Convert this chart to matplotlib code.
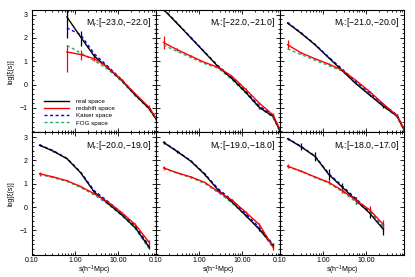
#!/usr/bin/env python3
"""
Two-point correlation function in real / redshift space, six magnitude bins
"""

import numpy as np
import matplotlib
matplotlib.use('Agg')
import matplotlib.pyplot as plt
from matplotlib.lines import Line2D
from matplotlib.ticker import AutoMinorLocator, FixedLocator, FuncFormatter

plt.rcParams['font.family'] = ['Liberation Sans', 'DejaVu Sans']
plt.rcParams['mathtext.fontset'] = 'custom'
plt.rcParams['mathtext.rm'] = 'Liberation Sans'
plt.rcParams['mathtext.it'] = 'Liberation Sans'

# separation bins (h^-1 Mpc)
s_top = [0.15, 0.31, 0.65, 1.35, 2.8, 5.8, 12.1, 25.2, 52.4, 109.0]
s_bot = [0.15, 0.31, 0.65, 1.35, 2.8, 5.8, 12.1, 25.2, 52.4]

mag_bins = ['[\u221223.0,\u221222.0]', '[\u221222.0,\u221221.0]', '[\u221221.0,\u221220.0]',
            '[\u221220.0,\u221219.0]', '[\u221219.0,\u221218.0]', '[\u221218.0,\u221217.0]']

# panel 1: Mr [-23,-22], starts at s=0.65
p1_s = s_top[2:]
p1_real = [2.90, 2.04, 1.22, 0.72, 0.18, -0.45, -1.02, -1.90]
p1_red = [1.40, 1.29, 1.11, 0.74, 0.20, -0.40, -0.97, -1.88]
p1_kaiser = [2.43, 2.14, 1.32, 0.78, 0.22, -0.42, -0.99, -1.86]
p1_fog = [1.68, 1.36, 1.02, 0.66, 0.14, -0.48, -1.05, -1.95]
p1_real_lo = [0.90, 0.40, 0.10, 0.05, 0.04, 0.05, 0.08, 0.10]
p1_real_hi = [0.60, 0.25, 0.08, 0.05, 0.04, 0.05, 0.08, 0.10]
p1_red_lo = [0.87, 0.22, 0.08, 0.04, 0.04, 0.06, 0.12, 0.10]
p1_red_hi = [0.31, 0.20, 0.08, 0.04, 0.04, 0.06, 0.10, 0.10]

# panel 2: Mr [-22,-21]
p2_real = [3.22, 2.62, 2.00, 1.38, 0.76, 0.26, -0.33, -0.98, -1.36, -2.60]
p2_red = [1.80, 1.50, 1.22, 0.95, 0.74, 0.36, -0.20, -0.80, -1.30, -2.55]
p2_kaiser = [3.25, 2.64, 2.02, 1.40, 0.80, 0.30, -0.28, -0.92, -1.32, -2.55]
p2_fog = [1.70, 1.42, 1.16, 0.90, 0.70, 0.22, -0.36, -1.00, -1.40, -2.65]
p2_real_err = [0.06, 0.04, 0.03, 0.03, 0.03, 0.03, 0.04, 0.05, 0.08, 0.10]
p2_red_err = [0.28, 0.05, 0.04, 0.03, 0.03, 0.03, 0.04, 0.05, 0.08, 0.10]

# panel 3: Mr [-21,-20]
p3_real = [2.64, 2.20, 1.71, 1.15, 0.60, 0.04, -0.45, -0.93, -1.35, -2.50]
p3_red = [1.71, 1.36, 1.11, 0.88, 0.62, 0.18, -0.30, -0.83, -1.33, -2.45]
p3_kaiser = [2.66, 2.22, 1.73, 1.18, 0.66, 0.12, -0.36, -0.86, -1.30, -2.45]
p3_fog = [1.53, 1.29, 1.04, 0.82, 0.58, 0.06, -0.43, -0.92, -1.38, -2.55]
p3_real_err = [0.05, 0.04, 0.03, 0.03, 0.03, 0.03, 0.05, 0.06, 0.08, 0.10]
p3_red_err = [0.20, 0.05, 0.03, 0.03, 0.03, 0.03, 0.04, 0.05, 0.08, 0.10]

# panel 4: Mr [-20,-19]
p4_real = [2.65, 2.40, 2.07, 1.47, 0.64, 0.16, -0.33, -0.89, -1.72]
p4_red = [1.43, 1.29, 1.13, 0.88, 0.57, 0.22, -0.24, -0.75, -1.51]
p4_kaiser = [2.67, 2.42, 2.09, 1.50, 0.70, 0.24, -0.25, -0.82, -1.65]
p4_fog = [1.40, 1.26, 1.10, 0.84, 0.52, 0.12, -0.36, -0.92, -1.78]
p4_real_err = [0.05, 0.02, 0.02, 0.02, 0.02, 0.02, 0.03, 0.05, 0.10]
p4_red_err = [0.08, 0.02, 0.02, 0.02, 0.02, 0.02, 0.03, 0.05, 0.10]

# panel 5: Mr [-19,-18]
p5_real = [2.77, 2.38, 1.96, 1.40, 0.72, 0.22, -0.36, -0.96, -1.65]
p5_red = [1.68, 1.47, 1.29, 1.06, 0.66, 0.30, -0.22, -0.75, -1.72]
p5_kaiser = [2.79, 2.40, 1.98, 1.43, 0.78, 0.30, -0.28, -0.88, -1.60]
p5_fog = [1.66, 1.45, 1.26, 1.02, 0.62, 0.18, -0.36, -0.92, -1.75]
p5_real_err = [0.08, 0.05, 0.04, 0.05, 0.05, 0.04, 0.05, 0.06, 0.10]
p5_red_err = [0.10, 0.03, 0.03, 0.03, 0.03, 0.03, 0.04, 0.06, 0.12]

# panel 6: Mr [-18,-17], up to s=25
p6_s = s_bot[:8]
p6_real = [2.93, 2.58, 2.17, 1.40, 0.85, 0.29, -0.26, -0.96]
p6_red = [1.75, 1.54, 1.29, 1.06, 0.71, 0.29, -0.12, -0.75]
p6_kaiser = [2.95, 2.60, 2.19, 1.44, 0.90, 0.36, -0.18, -0.88]
p6_fog = [1.73, 1.52, 1.27, 1.03, 0.66, 0.22, -0.22, -0.86]
p6_real_err = [0.05, 0.15, 0.20, 0.25, 0.20, 0.15, 0.20, 0.25]
p6_red_err = [0.08, 0.05, 0.06, 0.08, 0.10, 0.12, 0.15, 0.20]

panels = [
    (p1_s, p1_real, p1_red, p1_kaiser, p1_fog, [p1_real_lo, p1_real_hi], [p1_red_lo, p1_red_hi]),
    (s_top, p2_real, p2_red, p2_kaiser, p2_fog, p2_real_err, p2_red_err),
    (s_top, p3_real, p3_red, p3_kaiser, p3_fog, p3_real_err, p3_red_err),
    (s_bot, p4_real, p4_red, p4_kaiser, p4_fog, p4_real_err, p4_red_err),
    (s_bot, p5_real, p5_red, p5_kaiser, p5_fog, p5_real_err, p5_red_err),
    (p6_s, p6_real, p6_red, p6_kaiser, p6_fog, p6_real_err, p6_red_err),
]

GREEN = '#1fb070'
DASH = (0, (2.2, 1.8))

fig, axes = plt.subplots(2, 3, figsize=(4.15, 2.77), dpi=100, sharex=True, sharey=True)
plt.subplots_adjust(left=0.077, right=0.9735, top=0.964, bottom=0.08, wspace=0, hspace=0)

for i, ax in enumerate(axes.flat):
    s, real, red, kaiser, fog, real_err, red_err = panels[i]
    ax.errorbar(s, real, yerr=real_err, color='black', lw=1.0, elinewidth=0.9, capsize=0)
    ax.errorbar(s, red, yerr=red_err, color='red', lw=1.0, elinewidth=0.9, capsize=0)
    ax.plot(s, kaiser, color='blue', lw=1.0, ls=DASH)
    ax.plot(s, fog, color=GREEN, lw=1.0, ls=DASH)

    ax.set_xscale('log')
    ax.set_xlim(0.1, 76)
    ax.set_ylim(-2.05, 3.2)
    ax.xaxis.set_major_locator(FixedLocator([0.1, 1, 10]))
    ax.xaxis.set_major_formatter(FuncFormatter(lambda v, p: '%.2f' % v))
    ax.set_yticks([-1, 0, 1, 2, 3])
    ax.yaxis.set_minor_locator(AutoMinorLocator(5))
    ax.tick_params(which='both', direction='in', top=True, right=True, labelsize=5, width=0.6)
    ax.tick_params(axis='x', pad=1.5)
    ax.tick_params(axis='y', pad=3)
    ax.tick_params(which='major', length=3)
    ax.tick_params(which='minor', length=1.6)
    for sp in ax.spines.values():
        sp.set_linewidth(0.8)

    ax.text(0.965, 0.895, 'M$_r$:' + mag_bins[i], transform=ax.transAxes,
            ha='right', va='center', fontsize=6.3)

    if i >= 3:
        ax.set_xlabel('s(h$^{-1}$Mpc)', fontsize=5, labelpad=-0.5)
    if i % 3 == 0:
        ax.set_ylabel('log[\u03be(s)]', fontsize=5, labelpad=4)

handles = [Line2D([], [], color='black', lw=1.0),
           Line2D([], [], color='red', lw=1.0),
           Line2D([], [], color='blue', lw=1.0, ls=DASH),
           Line2D([], [], color=GREEN, lw=1.0, ls=DASH)]
labels = ['real space', 'redshift space', 'Kaiser space', 'FOG space']
axes[0, 0].legend(handles, labels, loc='lower left', bbox_to_anchor=(0.07, 0.03), frameon=False,
                  fontsize=4.5, handlelength=4.0, handletextpad=1.2, labelspacing=0.3,
                  borderpad=0)

plt.savefig('out.png', dpi=100)
plt.close()
